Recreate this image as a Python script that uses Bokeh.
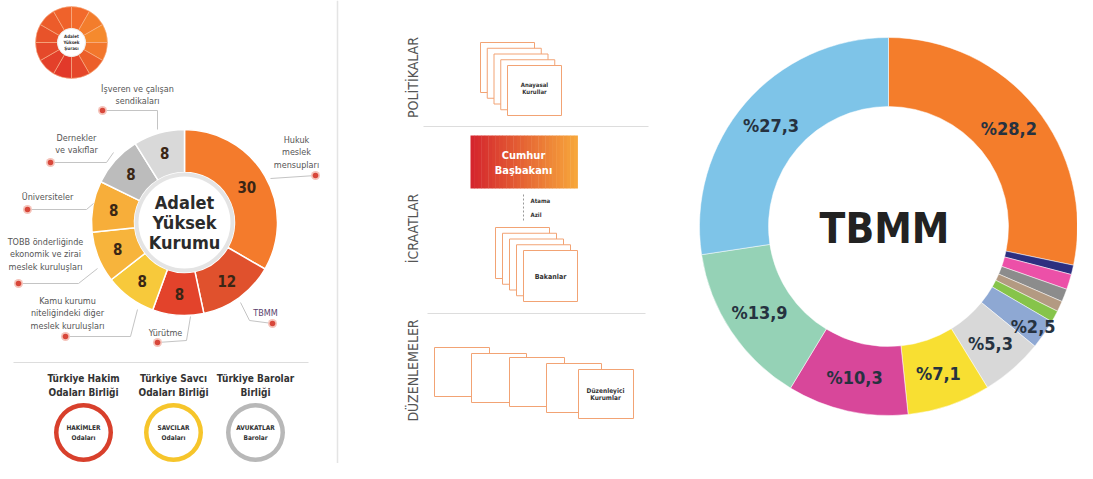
import numpy as np
from bokeh.plotting import figure
from bokeh.models import Range1d, ColumnDataSource
from bokeh.core.properties import value
from bokeh.embed import file_html
from bokeh.resources import INLINE

# ---------------- data ----------------
ayk_labels = ["Hukuk meslek mensupları", "TBMM", "Yürütme",
              "Kamu kurumu niteliğindeki diğer meslek kuruluşları",
              "TOBB önderliğinde ekonomik ve zirai meslek kuruluşları",
              "Üniversiteler", "Dernekler ve vakıflar", "İşveren ve çalışan sendikaları"]
ayk_values = [30, 12, 8, 8, 8, 8, 8, 8]
ayk_colors = ["#f47b2c", "#e0512d", "#e3432b", "#f7c93b", "#f7b43c", "#f7ae3a", "#bcbcbc", "#d9d9d9"]

council_parts = [1, 1, 1, 1, 1, 1, 1, 1, 1, 1, 1, 1]
council_colors = ["#f26a2b", "#f37d2c", "#f58a2d", "#f2772c", "#ec5f2a", "#e5472a",
                  "#e2392a", "#e3402a", "#e5492a", "#e8532a", "#ec5c2a", "#ef622b"]

tbmm_values = [28.2, 0.8, 1.3, 1.1, 0.9, 1.0, 2.5, 5.3, 7.1, 10.3, 13.9, 27.3]
tbmm_colors = ["#f47d2b", "#2d2f80", "#ec50a8", "#8c8c8c", "#b39a82", "#86c44a",
               "#8ea8d3", "#d8d8d8", "#f8df32", "#d8479a", "#95d2b6", "#7ec4e8"]
tbmm_text = ["%28,2", "", "", "", "", "", "%2,5", "%5,3", "%7,1", "%10,3", "%13,9", "%27,3"]

union_titles = [["Türkiye Hakim", "Odaları Birliği"], ["Türkiye Savcı", "Odaları Birliği"], ["Türkiye Barolar", "Birliği"]]
union_inner = [["HAKİMLER", "Odaları"], ["SAVCILAR", "Odaları"], ["AVUKATLAR", "Barolar"]]
union_colors = ["#d8402c", "#f6c52b", "#b8b8b8"]

F = "DejaVu Sans Condensed"

W, H = 1077, 463
p = figure(width=W, height=H, x_range=Range1d(0, W), y_range=Range1d(0, H),
           output_backend="svg", toolbar_location=None, min_border=0,
           x_axis_location=None, y_axis_location=None)
p.grid.visible = False
p.outline_line_color = None
p.background_fill_color = "white"
p.border_fill_color = "white"


def Y(py):
    return H - py


def txt(x, y, s, size, color="#4a4a4a", style="normal", align="center", angle=0.0):
    p.text(x=[x], y=[Y(y)], text=[s], text_font_size=f"{size}px", text_color=color,
           text_font_style=style, text_align=align, text_baseline="middle", angle=angle,
           text_font=value(F))


def wedges(vals):
    v = np.asarray(vals, dtype=float)
    cum = np.concatenate([[0.0], np.cumsum(v)]) / v.sum() * 2 * np.pi
    start = np.pi / 2 - cum[:-1]
    end = np.pi / 2 - cum[1:]
    return start, end


# separator
p.line([337, 337], [Y(0), Y(463)], line_color="#e4e4e4", line_width=1.5)

# ---------------- small council donut ----------------
cs, ce = wedges(council_parts)
p.annular_wedge(x=71, y=Y(42), inner_radius=14, outer_radius=36, start_angle=cs, end_angle=ce,
                direction="clock", fill_color=council_colors, line_color="#f8b68c", line_width=0.6)
p.circle(x=71, y=Y(42), radius=14, fill_color="white", line_color="#eeeeee")
for i, s in enumerate(["Adalet", "Yüksek", "Şurası"]):
    txt(71, 36 + i * 6, s, 4.5, color="#333333", style="bold")

# ---------------- Adalet Yüksek Kurumu donut ----------------
cx, cy = 184, 222
s, e = wedges(ayk_values)
src = ColumnDataSource(dict(start=s, end=e, color=ayk_colors, label=ayk_labels, val=ayk_values))
p.annular_wedge(x=cx, y=Y(cy), inner_radius=50, outer_radius=93, start_angle="start", end_angle="end",
                direction="clock", fill_color="color", line_color="white", line_width=1.5, source=src)
p.circle(x=cx, y=Y(cy), radius=50, fill_color="#e4e4e4", line_color=None)
p.circle(x=cx, y=Y(cy), radius=46, fill_color="white", line_color=None)
mid = (s + e) / 2
p.text(x=cx + 72 * np.cos(mid), y=Y(cy) + 72 * np.sin(mid), text=[str(v) for v in ayk_values],
       text_font_size="15px", text_font_style="bold", text_color="#3a2615", text_align="center",
       text_baseline="middle", text_font=value(F))
for i, s_ in enumerate(["Adalet", "Yüksek", "Kurumu"]):
    txt(cx, 202 + i * 20, s_, 18, color="#2b2b2b", style="bold")

# leader lines
lines = [
    [(102, 110), (157, 110), (157, 129)],
    [(50, 162), (106, 162), (113, 152)],
    [(27, 209), (86, 209), (93, 203)],
    [(18, 283), (78, 283), (97, 268)],
    [(65, 336), (130, 336), (137, 309)],
    [(157, 342), (186, 340), (190, 316)],
    [(240, 302), (249, 320), (272, 323)],
    [(270, 178), (315, 175)],
]
p.multi_line(xs=[[a for a, b in l] for l in lines], ys=[[Y(b) for a, b in l] for l in lines],
             line_color="#c4c4c4", line_width=1)
dots = [(102, 110), (50, 162), (27, 209), (18, 283), (65, 336), (157, 342), (272, 323), (315, 175)]
p.circle(x=[d[0] for d in dots], y=[Y(d[1]) for d in dots], radius=4.5, fill_color="#f5c4bb", line_color=None)
p.circle(x=[d[0] for d in dots], y=[Y(d[1]) for d in dots], radius=2.8, fill_color="#d8473a", line_color=None)

label_blocks = [
    (137, 88, ["İşveren ve çalışan", "sendikaları"]),
    (76, 137, ["Dernekler", "ve vakıflar"]),
    (47, 196, ["Üniversiteler"]),
    (45, 241, ["TOBB önderliğinde", "ekonomik ve zirai", "meslek kuruluşları"]),
    (67, 300, ["Kamu kurumu", "niteliğindeki diğer", "meslek kuruluşları"]),
    (165, 332, ["Yürütme"]),
    (296, 139, ["Hukuk", "meslek", "mensupları"]),
]
for x, y, ls in label_blocks:
    for j, l in enumerate(ls):
        txt(x, y + j * 12.5, l, 9, color="#555555")
txt(265, 312, "TBMM", 9, color="#5b3f6e")

# bottom of left panel
p.line([13, 308], [Y(362), Y(362)], line_color="#dddddd", line_width=1.2)
ux = [83, 173, 255]
for i in range(3):
    for j, l in enumerate(union_titles[i]):
        txt(ux[i], 378 + j * 14, l, 10, color="#333333", style="bold")
p.annulus(x=ux, y=[Y(432)] * 3, inner_radius=25, outer_radius=29.5, fill_color=union_colors, line_color=None)
for i in range(3):
    txt(ux[i], 427, union_inner[i][0], 6.5, color="#333333", style="bold")
    txt(ux[i], 437, union_inner[i][1], 6.5, color="#333333", style="bold")

# ---------------- middle panel ----------------
txt(412, 77, "POLİTİKALAR", 14, color="#555555", angle=np.pi / 2)
txt(412, 228, "İCRAATLAR", 14, color="#555555", angle=np.pi / 2)
txt(412, 370, "DÜZENLEMELER", 14, color="#555555", angle=np.pi / 2)
p.line([423, 648], [Y(126), Y(126)], line_color="#dddddd", line_width=1.2)
p.line([427, 645], [Y(313), Y(313)], line_color="#dddddd", line_width=1.2)


def boxes(lefts, tops, w, h):
    p.quad(left=lefts, right=[l + w for l in lefts], top=[Y(t) for t in tops],
           bottom=[Y(t + h) for t in tops], fill_color="white", line_color="#f2a374", line_width=1)


boxes([480 + 6.75 * i for i in range(5)], [42 + 5.75 * i for i in range(5)], 54, 50)
txt(534, 84, "Anayasal", 6, color="#333333", style="bold")
txt(534, 91, "Kurullar", 6, color="#333333", style="bold")

# Cumhur Başbakanı gradient box
n = 30
c0 = np.array([0xd5, 0x26, 0x2e]); c1 = np.array([0xf7, 0xa6, 0x3b])
edges = np.linspace(470, 577, n + 1)
cols = ["#%02x%02x%02x" % tuple((c0 + (c1 - c0) * t).astype(int)) for t in np.linspace(0, 1, n)]
p.quad(left=edges[:-1], right=edges[1:] + 0.4, top=Y(135), bottom=Y(188), fill_color=cols, line_color=None)
txt(523, 155, "Cumhur", 11, color="white", style="bold")
txt(523, 170, "Başbakanı", 11, color="white", style="bold")
p.line([523, 523], [Y(194), Y(222)], line_color="#999999", line_width=1, line_dash="2 2")
txt(530, 200, "Atama", 6, color="#333333", style="bold", align="left")
txt(530, 214, "Azil", 6, color="#333333", style="bold", align="left")

boxes([495 + 7 * i for i in range(5)], [227 + 5.75 * i for i in range(5)], 54, 51)
txt(550, 276, "Bakanlar", 7, color="#333333", style="bold")

boxes([434, 471, 509, 546, 578], [347, 353, 357, 363, 369], 55, 49)
txt(605, 390, "Düzenleyici", 6.5, color="#333333", style="bold")
txt(605, 397, "Kurumlar", 6.5, color="#333333", style="bold")

# ---------------- TBMM donut ----------------
tx, ty, R1, R0 = 888, 226, 189, 120
ts, te = wedges(tbmm_values)
tsrc = ColumnDataSource(dict(start=ts, end=te, color=tbmm_colors, val=tbmm_values, lab=tbmm_text))
p.annular_wedge(x=tx, y=Y(ty), inner_radius=R0, outer_radius=R1, start_angle="start", end_angle="end",
                direction="clock", fill_color="color", line_color="white", line_width=0.5, source=tsrc)
tm = (ts + te) / 2
rad = np.where(np.asarray(tbmm_values) < 3, 176, 155)
p.text(x=tx + rad * np.cos(tm), y=Y(ty) + rad * np.sin(tm), text=tbmm_text,
       text_font_size="18px", text_font_style="bold", text_color="#263240", text_align="center",
       text_baseline="middle", text_font=value(F))
txt(884, 228, "TBMM", 42, color="#222222", style="bold")

open("out.html", "w").write(file_html(p, INLINE))
